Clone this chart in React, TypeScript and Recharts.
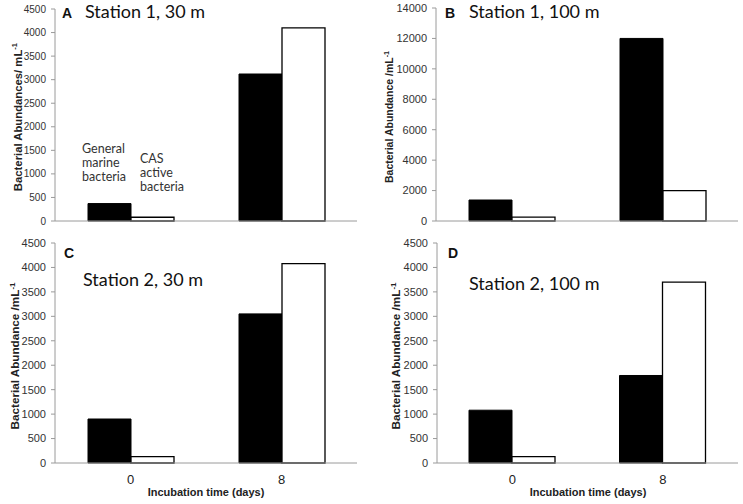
import React from 'react';
import { BarChart, Bar, XAxis, YAxis } from 'recharts';

const timeLabels = ['0', '8'];

const st1m30General = [370, 3120];
const st1m30Cas = [80, 4100];
const st1m100General = [1380, 12000];
const st1m100Cas = [250, 2000];
const st2m30General = [900, 3050];
const st2m30Cas = [130, 4080];
const st2m100General = [1080, 1790];
const st2m100Cas = [130, 3700];

const ticks4500 = [0, 500, 1000, 1500, 2000, 2500, 3000, 3500, 4000, 4500];
const ticks14000 = [0, 2000, 4000, 6000, 8000, 10000, 12000, 14000];
const boundaryTicks = [0, 1, 2];

const build = (g: number[], c: number[]) =>
  timeLabels.map((t, i) => ({ time: t, general: g[i], cas: c[i] }));

const AXIS = '#9a9a9a';
const ARIAL = '"Liberation Sans", Arial, sans-serif';
const CAL = 'Lato, "Open Sans", sans-serif';

type PanelProps = {
  left: number;
  top: number;
  width: number;
  height: number;
  margin: { top: number; right: number; bottom: number; left: number };
  yWidth: number;
  yMax: number;
  yTicks: number[];
  tickFont: number;
  showX: boolean;
  data: { time: string; general: number; cas: number }[];
};

function Panel(p: PanelProps) {
  return (
    <div style={{ position: 'absolute', left: p.left, top: p.top }}>
      <BarChart width={p.width} height={p.height} data={p.data} margin={p.margin} barGap={0}>
        <XAxis
          dataKey="time"
          type="category"
          height={1}
          tickLine={false}
          tickSize={0}
          tickMargin={12}
          axisLine={{ stroke: AXIS }}
          tick={p.showX ? { fontSize: 13, fill: '#222', fontFamily: ARIAL } : false}
        />
        <XAxis
          xAxisId="b"
          type="number"
          domain={[0, 2]}
          ticks={boundaryTicks}
          allowDataOverflow
          height={1}
          tick={false}
          axisLine={false}
          tickSize={3}
          tickLine={{ stroke: AXIS }}
        />
        <YAxis
          type="number"
          width={p.yWidth}
          domain={[0, p.yMax]}
          ticks={p.yTicks}
          interval={0}
          tickSize={4}
          tickMargin={5}
          axisLine={{ stroke: AXIS }}
          tickLine={{ stroke: AXIS }}
          tick={{ fontSize: p.tickFont, fill: '#333', fontFamily: ARIAL }}
        />
        <Bar dataKey="general" fill="#000" stroke="#000" barSize={43} isAnimationActive={false} />
        <Bar dataKey="cas" fill="#fff" stroke="#000" strokeWidth={1.3} barSize={43} isAnimationActive={false} />
      </BarChart>
    </div>
  );
}

function YLabel({ x, y, size, text }: { x: number; y: number; size: number; text: string }) {
  return (
    <text
      x={x}
      y={y}
      transform={`rotate(-90, ${x}, ${y})`}
      textAnchor="middle"
      fontFamily={ARIAL}
      fontWeight="bold"
      fontSize={size}
      fill="#222"
    >
      {text}
      <tspan fontSize={size * 0.68} dy={-size * 0.38}>-1</tspan>
    </text>
  );
}

export default function App() {
  return (
    <div style={{ position: 'absolute', left: 0, top: 0, width: 743, height: 504, background: '#fff' }}>
      <Panel
        left={0}
        top={0}
        width={372}
        height={250}
        margin={{ top: 9, right: 15, bottom: 27, left: 0 }}
        yWidth={55}
        yMax={4500}
        yTicks={ticks4500}
        tickFont={10}
        showX={false}
        data={build(st1m30General, st1m30Cas)}
      />
      <Panel
        left={372}
        top={0}
        width={371}
        height={250}
        margin={{ top: 8, right: 5, bottom: 27, left: 0 }}
        yWidth={64}
        yMax={14000}
        yTicks={ticks14000}
        tickFont={11}
        showX={false}
        data={build(st1m100General, st1m100Cas)}
      />
      <Panel
        left={0}
        top={230}
        width={372}
        height={274}
        margin={{ top: 13, right: 15, bottom: 39, left: 0 }}
        yWidth={55}
        yMax={4500}
        yTicks={ticks4500}
        tickFont={11}
        showX={true}
        data={build(st2m30General, st2m30Cas)}
      />
      <Panel
        left={372}
        top={230}
        width={371}
        height={274}
        margin={{ top: 13, right: 5, bottom: 39, left: 0 }}
        yWidth={65}
        yMax={4500}
        yTicks={ticks4500}
        tickFont={11}
        showX={true}
        data={build(st2m100General, st2m100Cas)}
      />
      <svg
        width={743}
        height={504}
        style={{ position: 'absolute', left: 0, top: 0, pointerEvents: 'none' }}
      >
        <text x={62} y={18} fontFamily={ARIAL} fontWeight="bold" fontSize={14} fill="#111">A</text>
        <text x={85} y={18} fontFamily={CAL} fontSize={18} fill="#111">Station 1, 30 m</text>
        <text x={445} y={18} fontFamily={ARIAL} fontWeight="bold" fontSize={14} fill="#111">B</text>
        <text x={469} y={18} fontFamily={CAL} fontSize={18} fill="#111">Station 1, 100 m</text>
        <text x={64} y={258} fontFamily={ARIAL} fontWeight="bold" fontSize={14} fill="#111">C</text>
        <text x={83} y={286} fontFamily={CAL} fontSize={18} fill="#111">Station 2, 30 m</text>
        <text x={448} y={258} fontFamily={ARIAL} fontWeight="bold" fontSize={14} fill="#111">D</text>
        <text x={469} y={290} fontFamily={CAL} fontSize={18} fill="#111">Station 2, 100 m</text>

        <text fontFamily={CAL} fontSize={12.5} fill="#333">
          <tspan x={82} y={153}>General</tspan>
          <tspan x={82} y={167}>marine</tspan>
          <tspan x={82} y={181}>bacteria</tspan>
        </text>
        <text fontFamily={CAL} fontSize={12.5} fill="#333">
          <tspan x={140} y={163}>CAS</tspan>
          <tspan x={140} y={177}>active</tspan>
          <tspan x={140} y={191}>bacteria</tspan>
        </text>

        <YLabel x={21.5} y={117} size={11.3} text="Bacterial Abundances/ mL" />
        <YLabel x={393} y={117} size={10.5} text="Bacterial Abundance /mL" />
        <YLabel x={19} y={356} size={11.7} text="Bacterial Abundance /mL" />
        <YLabel x={400} y={356} size={11.7} text="Bacterial Abundance /mL" />

        <text x={206} y={496} textAnchor="middle" fontFamily={ARIAL} fontWeight="bold" fontSize={11} fill="#222">
          Incubation time (days)
        </text>
        <text x={588} y={496} textAnchor="middle" fontFamily={ARIAL} fontWeight="bold" fontSize={11} fill="#222">
          Incubation time (days)
        </text>
      </svg>
    </div>
  );
}
